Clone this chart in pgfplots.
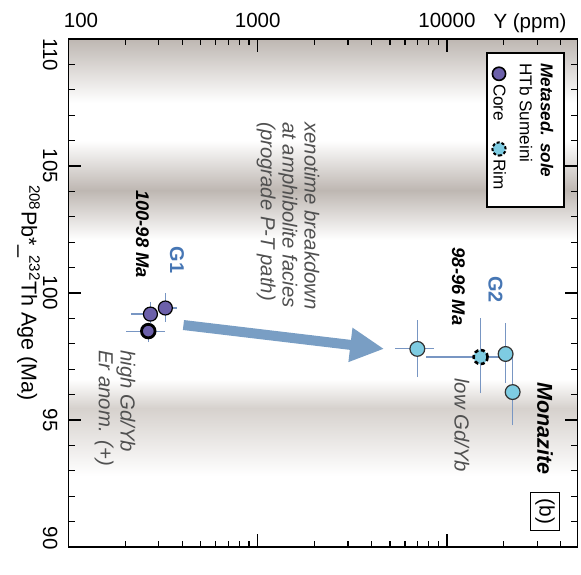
\documentclass[border=0pt]{standalone}
\usepackage{fontspec}
\setmainfont{Liberation Sans}
\usepackage{pgfplots}
\pgfplotsset{compat=1.18}
\usetikzlibrary{arrows.meta}
\definecolor{bandgray}{RGB}{190,183,178}
\definecolor{bandlight}{RGB}{214,209,205}
\definecolor{corefill}{RGB}{108,96,170}
\definecolor{rimfill}{RGB}{126,204,226}
\definecolor{errcol}{RGB}{120,150,195}
\definecolor{arrowcol}{RGB}{121,158,196}
\definecolor{gblue}{RGB}{70,118,180}
\definecolor{annot}{RGB}{80,80,80}
\begin{document}
\begin{tikzpicture}
\begin{axis}[name=ax, scale only axis, width=254.5bp, height=254bp,
  xmode=log, xmin=100, xmax=49000, ymin=90, ymax=110,
  axis on top,
  xtick={100,1000,10000}, xticklabels={\hspace*{12.5bp}100,1000,10000},
  minor xtick={200,300,400,500,600,700,800,900,2000,3000,4000,5000,6000,7000,8000,9000,20000,30000,40000},
  xticklabel pos=upper,
  ytick={90,95,100,105,110}, yticklabels={90\hspace*{9bp},95,100,105,\hspace*{16bp}110},
  minor y tick num=4,
  /pgf/number format/assume math mode=true,
  tick label style={font=\fontsize{10.3}{12}\selectfont},
  xticklabel shift=2bp,
  yticklabel style={rotate=-90, anchor=north},
  yticklabel shift=2bp,
  ylabel={\textsuperscript{208}Pb*\_\kern-0.12em\textsuperscript{232}Th Age (Ma)},
  ylabel style={font=\fontsize{10.8}{13}\selectfont, rotate=180, at={(axis description cs:-0.0786,0.5)}, anchor=center},
  axis line style={line width=0.75bp},
  major tick length=6.5bp, minor tick length=3.2bp,
  tick style={line width=0.6bp, black},
]
% background bands
\fill[top color=bandgray, bottom color=white] (axis cs:100,110) rectangle (axis cs:49000,107.5);
\fill[top color=white, bottom color=white, middle color=bandgray] (axis cs:100,106.0) rectangle (axis cs:49000,102.1);
\fill[top color=white, bottom color=bandlight] (axis cs:100,96.6) rectangle (axis cs:49000,95.47);
\fill[top color=bandlight, bottom color=white] (axis cs:100,95.47) rectangle (axis cs:49000,92.8);

% arrow
\draw[arrowcol, line width=5bp, -{Triangle[length=17bp, width=16bp]}] (axis cs:405,98.74) -- (axis cs:4660,97.80);

% error bars (core)
\addplot[errcol, line width=0.6bp, forget plot] coordinates {(298,99.41) (376,99.41)};
\addplot[errcol, line width=0.6bp, forget plot] coordinates {(325,98.86) (325,100.0)};
\addplot[errcol, line width=0.6bp, forget plot] coordinates {(215,99.17) (295,99.17)};
\addplot[errcol, line width=0.6bp, forget plot] coordinates {(271,98.82) (271,99.65)};
\addplot[errcol, line width=0.6bp, forget plot] coordinates {(202,98.50) (325,98.50)};
\addplot[errcol, line width=0.6bp, forget plot] coordinates {(264,98.07) (264,98.82)};
% error bars (rim)
\addplot[errcol, line width=0.6bp, forget plot] coordinates {(5330,97.80) (8590,97.80)};
\addplot[errcol, line width=0.6bp, forget plot] coordinates {(6975,96.69) (6975,98.94)};
\addplot[errcol, line width=0.6bp, forget plot] coordinates {(7780,97.48) (18750,97.48)};
\addplot[errcol, line width=0.6bp, forget plot] coordinates {(15060,96.06) (15060,99.02)};
\addplot[errcol, line width=0.6bp, forget plot] coordinates {(20420,96.46) (20420,98.82)};
\addplot[errcol, line width=0.6bp, forget plot] coordinates {(22250,94.80) (22250,97.48)};

% core points
\addplot[only marks, mark=*, mark size=3.5bp, mark options={fill=corefill, draw=black, line width=0.6bp}] coordinates {(271,99.17) (325,99.41)};
\addplot[only marks, mark=*, mark size=3.4bp, mark options={fill=corefill, draw=black, line width=1.4bp}] coordinates {(264,98.50)};
% rim points
\addplot[only marks, mark=*, mark size=3.7bp, mark options={fill=rimfill, draw=black!80, line width=0.6bp}] coordinates {(6975,97.80) (20420,97.60) (22250,96.10)};
\addplot[only marks, mark=*, mark size=3.5bp, mark options={fill=rimfill, draw=black, line width=1.3bp, dash pattern=on 2bp off 1.3bp}] coordinates {(15060,97.48)};
\end{axis}

\coordinate (O) at ([xshift=-34.25bp, yshift=19.5bp]ax.north west);
\begin{scope}[shift={(O)}, x=0.5bp, y=-0.5bp]
\path (0,0) rectangle (581,562);
% top label
\node[anchor=base, inner sep=0, font=\fontsize{10.3}{12}\selectfont] at (530,28) {Y (ppm)};
% annotations
\node[rotate=-90, anchor=center, inner sep=0, font=\fontsize{9.2}{11}\selectfont\bfseries\itshape] at (142.5,234) {100-98 Ma};
\node[rotate=-90, anchor=center, inner sep=0, text=gblue, font=\fontsize{10}{12}\selectfont\bfseries] at (177,260) {G1};
\node[rotate=-90, anchor=west, inner sep=0, align=left, text=annot, font=\fontsize{10.2}{11}\selectfont\itshape] at (288,122) {xenotime breakdown\\at amphibolite facies\\(prograde P-T path)};
\node[rotate=-90, anchor=west, inner sep=0, align=left, text=annot, font=\fontsize{10.2}{11}\selectfont\itshape] at (115,350) {high Gd/Yb\\Er anom. (+)};
\node[rotate=-90, anchor=center, inner sep=0, font=\fontsize{9.2}{11}\selectfont\bfseries\itshape] at (458.5,286.5) {98-96 Ma};
\node[rotate=-90, anchor=center, inner sep=0, text=gblue, font=\fontsize{10}{12}\selectfont\bfseries] at (495.5,289.5) {G2};
\node[rotate=-90, anchor=west, inner sep=0, text=annot, font=\fontsize{10.2}{12}\selectfont\itshape] at (462,378) {low Gd/Yb};
\node[rotate=-90, anchor=center, inner sep=0, font=\fontsize{10.8}{13}\selectfont\bfseries\itshape] at (545,428.5) {Monazite};
\node[rotate=-90, draw, line width=0.6bp, inner xsep=3bp, inner ysep=2.2bp, font=\fontsize{10.5}{12}\selectfont] at (545,511.5) {(b)};
% legend
\draw[line width=0.6bp, fill=white] (487,53) rectangle (564,207);
\node[rotate=-90, anchor=west, inner sep=0, font=\fontsize{8.6}{10}\selectfont\bfseries\itshape] at (547,63) {Metased. sole};
\node[rotate=-90, anchor=west, inner sep=0, font=\fontsize{8.6}{10}\selectfont] at (526,63) {HTb Sumeini};
\node[rotate=-90, anchor=west, inner sep=0, font=\fontsize{8.6}{10}\selectfont] at (499,66) {\tikz[baseline=-0.6ex]\draw[fill=corefill, line width=0.8bp] (0,0) circle[radius=3.3bp];\,Core};
\node[rotate=-90, anchor=west, inner sep=0, font=\fontsize{8.6}{10}\selectfont] at (499,141) {\tikz[baseline=-0.6ex]\draw[fill=rimfill, line width=1bp, dash pattern=on 1.5bp off 1bp] (0,0) circle[radius=3.3bp];\,Rim};
\end{scope}
\end{tikzpicture}
\end{document}
